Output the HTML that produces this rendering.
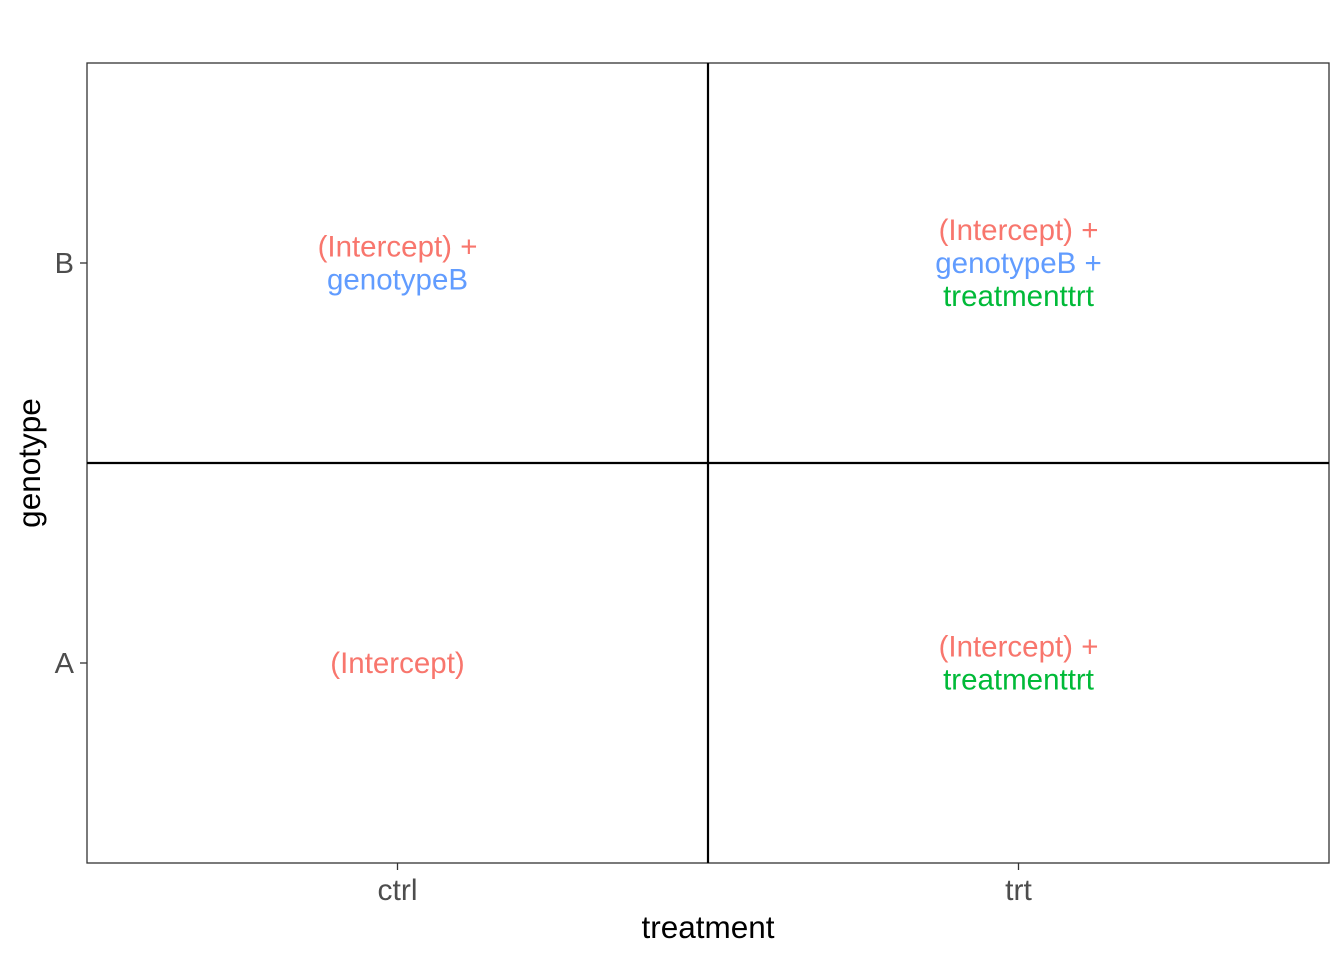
<!DOCTYPE html>
<html><head><meta charset="utf-8"><style>
html,body{margin:0;padding:0;background:#fff;}
svg{display:block;font-family:"Liberation Sans",Arial,sans-serif;}
</style></head><body>
<svg id="chart" width="1344" height="960" viewBox="0 0 1344 960">
<rect x="87" y="63" width="1242" height="800" fill="#fff" stroke="#333" stroke-width="1.3"/>
<g id="marks"></g>
<text x="708" y="938" text-anchor="middle" font-size="31.5" fill="#000">treatment</text>
<text transform="translate(40,463) rotate(-90)" text-anchor="middle" font-size="31.5" fill="#000">genotype</text>
</svg>
<script>
const xCats = ["ctrl","trt"];
const yCats = ["A","B"];
const cellX = ["ctrl","trt","ctrl","trt"];
const cellY = ["A","A","B","B"];
const cellTerms = [
  ["(Intercept)"],
  ["(Intercept)","treatmenttrt"],
  ["(Intercept)","genotypeB"],
  ["(Intercept)","genotypeB","treatmenttrt"]
];
const termColors = {"(Intercept)":"#F8766D","genotypeB":"#619CFF","treatmenttrt":"#00BA38"};
const NS="http://www.w3.org/2000/svg";
const L=87,R=1329,T=63,B=863;
const xPos=c=>L+(xCats.indexOf(c)+0.5)*(R-L)/xCats.length;
const yPos=c=>B-(yCats.indexOf(c)+0.5)*(B-T)/yCats.length;
const svg=document.getElementById('chart');
const g=document.getElementById('marks');
function mk(tag,attrs,parent){const e=document.createElementNS(NS,tag);for(const k in attrs)e.setAttribute(k,attrs[k]);(parent||g).appendChild(e);return e;}
const vl=mk('line',{x1:(L+R)/2,x2:(L+R)/2,y1:T,y2:B,stroke:'#000','stroke-width':2.2});


const hl=mk('line',{x1:L,x2:R,y1:(T+B)/2,y2:(T+B)/2,stroke:'#000','stroke-width':2.2});


xCats.forEach(c=>{
  const x=xPos(c);
  const t=mk('line',{x1:x,x2:x,y1:B,y2:B+7,stroke:'#333','stroke-width':1.3},svg);
  
  
  const l=mk('text',{x:x,y:900,'text-anchor':'middle','font-size':30,fill:'#4d4d4d'},svg);
  l.textContent=c;
  
  
});
yCats.forEach(c=>{
  const y=yPos(c);
  const t=mk('line',{x1:L-7,x2:L,y1:y,y2:y,stroke:'#333','stroke-width':1.3},svg);
  
  
  const l=mk('text',{x:74,y:y+10,'text-anchor':'end','font-size':29,fill:'#4d4d4d'},svg);
  l.textContent=c;
  
  
});
const LH=33;
cellTerms.forEach((terms,i)=>{
  const cx=xPos(cellX[i]), cy=yPos(cellY[i]);
  const n=terms.length;
  terms.forEach((term,j)=>{
    const y=cy+(j-(n-1)/2)*LH+10;
    const t=mk('text',{x:cx,y:y,'text-anchor':'middle','font-size':29.5,fill:termColors[term]});
    t.textContent=term+(j<n-1?' +':'');
    
    
  });
});
</script>
</body></html>
